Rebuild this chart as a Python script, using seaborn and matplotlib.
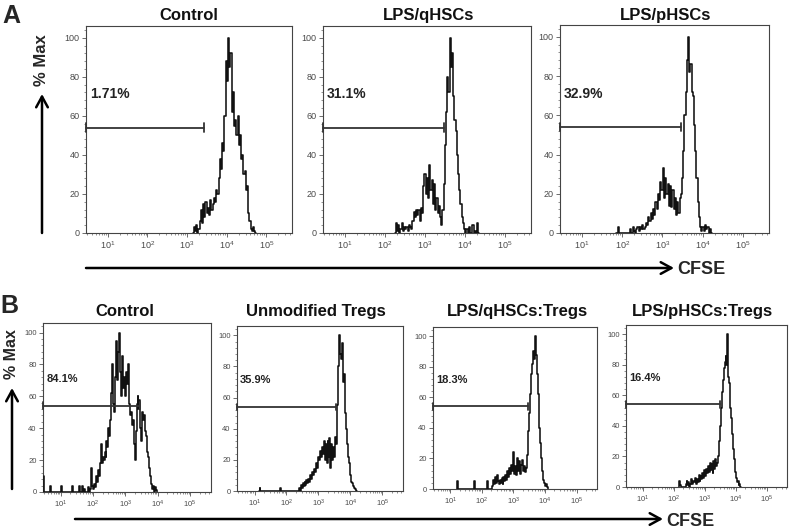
import numpy as np
import pandas as pd
import matplotlib
matplotlib.use("Agg")
import matplotlib.pyplot as plt
import seaborn as sns
from matplotlib.ticker import FixedLocator, MultipleLocator, LogLocator, NullFormatter, FuncFormatter

# ---------------- data ----------------
BIN = 0.03  # histogram channel width in log10(CFSE) units

top_titles = ["Control", "LPS/qHSCs", "LPS/pHSCs"]
top_pct = ["1.71%", "31.1%", "32.9%"]
top_gate_end = [3.42, 3.48, 3.47]          # log10 CFSE of gate right end
top_start = [3.15, 2.25, 1.85]             # log10 CFSE of first channel

a1_vals = [0, 3, 1, 4, 0, 2, 6, 12, 5, 15, 8, 16, 10, 13, 9, 17, 12, 15, 18, 16,
           22, 20, 28, 38, 33, 46, 42, 60, 88, 78, 100, 85, 92, 62, 72, 55, 58, 50,
           60, 45, 50, 38, 40, 30, 32, 22, 24, 10, 6, 2, 1, 3, 1, 0]
a2_vals = [0, 5, 1, 4, 0, 2, 5, 1, 3, 2, 3, 1, 4, 3, 2, 6, 11, 8, 12, 9, 12, 6,
           13, 10, 24, 30, 20, 28, 18, 35, 22, 27, 15, 25, 12, 18, 10, 14, 8, 4,
           12, 25, 45, 62, 80, 72, 100, 85, 92, 70, 58, 52, 40, 30, 22, 15, 8, 5,
           2, 0, 2, 0, 3, 0, 0, 4, 0, 1, 0, 5, 0]
a3_vals = [0, 0, 3, 0, 0, 0, 0, 0, 0, 0, 0, 0, 2, 0, 3, 1, 0, 2, 3, 1, 3, 2, 4,
           2, 3, 5, 4, 8, 6, 10, 7, 12, 9, 16, 12, 20, 17, 26, 22, 33, 18, 28, 20,
           25, 14, 24, 13, 22, 12, 18, 9, 16, 10, 18, 20, 28, 42, 60, 72, 88, 100,
           82, 86, 72, 70, 55, 42, 28, 16, 8, 3, 1, 3, 1, 4, 2, 3, 0, 2, 0]

bot_titles = ["Control", "Unmodified Tregs", "LPS/qHSCs:Tregs", "LPS/pHSCs:Tregs"]
bot_pct = ["84.1%", "35.9%", "18.3%", "16.4%"]
bot_gate_end = [3.45, 3.55, 3.47, 3.48]
bot_start = [0.48, 1.14, 1.20, 2.15]

b1_vals = [10, 0, 0, 0, 0, 0, 0, 4, 0, 0, 0, 0, 0, 0, 0, 0, 0, 0, 4, 0, 0, 0, 0,
           0, 0, 0, 0, 0, 0, 4, 0, 0, 0, 0, 0, 0, 0, 4, 0, 0, 4, 0, 2, 0, 0, 0, 3,
           0, 2, 15, 4, 2, 5, 3, 10, 6, 14, 10, 18, 30, 18, 22, 20, 25, 22, 32, 28,
           40, 35, 45, 62, 80, 55, 50, 72, 95, 70, 88, 100, 75, 60, 85, 65, 72, 60,
           75, 68, 80, 55, 48, 50, 42, 45, 30, 20, 38, 55, 60, 52, 58, 40, 32, 50,
           45, 48, 38, 35, 25, 22, 15, 10, 5, 2, 4, 0, 3, 1, 0]
b2_vals = [0, 2, 0, 0, 0, 0, 0, 0, 0, 0, 0, 0, 0, 0, 0, 0, 0, 0, 0, 0, 0, 0, 2,
           0, 0, 0, 0, 0, 0, 0, 0, 0, 0, 0, 0, 0, 0, 0, 0, 0, 0, 0, 2, 0, 4, 2,
           5, 3, 6, 4, 7, 5, 8, 6, 10, 8, 12, 10, 14, 12, 18, 15, 22, 20, 26, 22,
           28, 24, 32, 20, 30, 18, 32, 22, 34, 15, 30, 20, 28, 22, 35, 30, 55, 80,
           100, 88, 85, 95, 70, 75, 50, 40, 30, 22, 18, 12, 10, 6, 5, 3, 2, 1, 0]
b3_vals = [0, 5, 0, 0, 0, 0, 0, 0, 0, 0, 0, 0, 0, 0, 0, 0, 0, 0, 0, 5, 0, 0, 0,
           0, 0, 0, 0, 0, 0, 0, 0, 0, 0, 5, 0, 0, 0, 0, 2, 6, 3, 8, 4, 9, 5, 3, 6,
           4, 7, 3, 8, 5, 9, 6, 12, 8, 14, 10, 16, 12, 24, 10, 15, 9, 20, 12, 18,
           10, 14, 16, 19, 12, 15, 11, 14, 22, 38, 50, 62, 75, 82, 90, 85, 100, 88,
           75, 62, 50, 40, 30, 20, 12, 6, 4, 2, 3, 1, 0]
b4_vals = [0, 4, 1, 0, 0, 0, 0, 0, 2, 4, 1, 3, 0, 2, 5, 2, 4, 3, 6, 2, 5, 3, 8,
           4, 7, 5, 9, 6, 11, 7, 12, 9, 14, 10, 16, 11, 15, 9, 17, 12, 18, 14, 16,
           20, 30, 40, 52, 62, 70, 78, 82, 86, 80, 100, 72, 68, 52, 45, 35, 25, 18,
           10, 6, 3, 4, 1, 2, 0]

GATE_LEVEL = 54

# ---------------- style ----------------
sns.set_style("ticks")
plt.rcParams["font.family"] = ["Liberation Sans", "DejaVu Sans"]
plt.rcParams["mathtext.fontset"] = "custom"
plt.rcParams["mathtext.rm"] = "Liberation Sans"
plt.rcParams["mathtext.it"] = "Liberation Sans"

W, H = 791, 531
fig = plt.figure(figsize=(W / 100, H / 100), dpi=100)


def rect(x0, y0, x1, y1):
    return [x0 / W, 1 - y1 / H, (x1 - x0) / W, (y1 - y0) / H]


XMIN, XMAX = 10 ** 0.45, 10 ** 5.65


def panel(r, start, vals, gate_end, pct, tick_fs, pct_fs):
    ax = fig.add_axes(r)
    ax.set_xscale("log")
    x = 10 ** (start + BIN * np.arange(len(vals)))
    df = pd.DataFrame({"CFSE": x, "pct": vals})
    sns.lineplot(data=df, x="CFSE", y="pct", ax=ax, color="#111111", lw=1.15,
                 drawstyle="steps-mid", estimator=None, zorder=3)
    ax.set_xlim(XMIN, XMAX)
    ax.set_ylim(0, 106)
    ax.set_xlabel("")
    ax.set_ylabel("")
    # gate
    ge = 10 ** gate_end
    ax.plot([XMIN, ge], [GATE_LEVEL, GATE_LEVEL], color="#333333", lw=1.3, zorder=4,
            clip_on=False)
    for xv in (XMIN, ge):
        ax.plot([xv, xv], [GATE_LEVEL - 2.2, GATE_LEVEL + 2.2], color="#333333",
                lw=1.3, zorder=4, clip_on=False)
    ax.text(10 ** 0.55, 71, pct, fontsize=pct_fs, fontweight="bold",
            color="#222222", va="center", ha="left")
    # ticks
    ax.xaxis.set_major_locator(FixedLocator([1e1, 1e2, 1e3, 1e4, 1e5]))
    ax.xaxis.set_major_formatter(
        FuncFormatter(lambda v, p: r"$\mathregular{10^{%d}}$" % round(np.log10(v))))
    ax.xaxis.set_minor_locator(LogLocator(base=10, subs=np.arange(2, 10), numticks=30))
    ax.xaxis.set_minor_formatter(NullFormatter())
    ax.yaxis.set_major_locator(FixedLocator([0, 20, 40, 60, 80, 100]))
    ax.yaxis.set_minor_locator(MultipleLocator(4))
    ax.tick_params(which="major", direction="out", length=3, width=0.6,
                   color="#555555", labelsize=tick_fs, labelcolor="#4a4a4a", pad=1.5)
    ax.tick_params(which="minor", direction="out", length=1.6, width=0.5,
                   color="#666666")
    for s in ax.spines.values():
        s.set_visible(True)
        s.set_color("#444444")
        s.set_linewidth(0.8)
    return ax


top_rects = [rect(86, 26, 292, 233), rect(323, 26, 531, 233), rect(560, 25, 769, 233)]
top_vals = [a1_vals, a2_vals, a3_vals]
top_centers = [189, 429, 666]
for i in range(3):
    panel(top_rects[i], top_start[i], top_vals[i], top_gate_end[i], top_pct[i], 6.5, 10)
    fig.text(top_centers[i] / W, 1 - 20 / H, top_titles[i], ha="center",
             va="baseline", fontsize=12, fontweight="bold", color="#111111")

bot_rects = [rect(43, 323, 211, 492), rect(237, 326, 403, 491),
             rect(433, 327, 597, 489), rect(626, 325, 787, 487)]
bot_vals = [b1_vals, b2_vals, b3_vals, b4_vals]
bot_centers = [125, 316, 517, 702]
for i in range(4):
    panel(bot_rects[i], bot_start[i], bot_vals[i], bot_gate_end[i], bot_pct[i], 5.5, 8)
    fig.text(bot_centers[i] / W, 1 - 316 / H, bot_titles[i], ha="center",
             va="baseline", fontsize=12, fontweight="bold", color="#111111")

# ---------------- overlay: panel letters, axis arrows ----------------
ov = fig.add_axes([0, 0, 1, 1], zorder=-1)
ov.set_xlim(0, W)
ov.set_ylim(H, 0)
ov.axis("off")
ov.patch.set_alpha(0)

ov.text(2, 23, "A", fontsize=18, fontweight="bold", va="baseline", ha="left")
ov.text(0, 313, "B", fontsize=18, fontweight="bold", va="baseline", ha="left")

aprops = dict(arrowstyle="->,head_length=0.55,head_width=0.3", lw=1.8,
              color="black", mutation_scale=14, shrinkA=0, shrinkB=0)
ov.annotate("", xy=(42, 94), xytext=(42, 233), arrowprops=aprops)
ov.text(42, 60, "% Max", rotation=90, fontsize=12, fontweight="bold",
        ha="center", va="center")
ov.annotate("", xy=(674, 268), xytext=(86, 268), arrowprops=aprops)
ov.text(677, 270, "CFSE", fontsize=13, fontweight="bold", ha="left", va="center")

ov.annotate("", xy=(12, 388), xytext=(12, 489), arrowprops=aprops)
ov.text(12, 354, "% Max", rotation=90, fontsize=11.5, fontweight="bold",
        ha="center", va="center")
ov.annotate("", xy=(663, 519), xytext=(75, 519), arrowprops=aprops)
ov.text(666, 521, "CFSE", fontsize=13, fontweight="bold", ha="left", va="center")

fig.savefig("out.png", dpi=100)
